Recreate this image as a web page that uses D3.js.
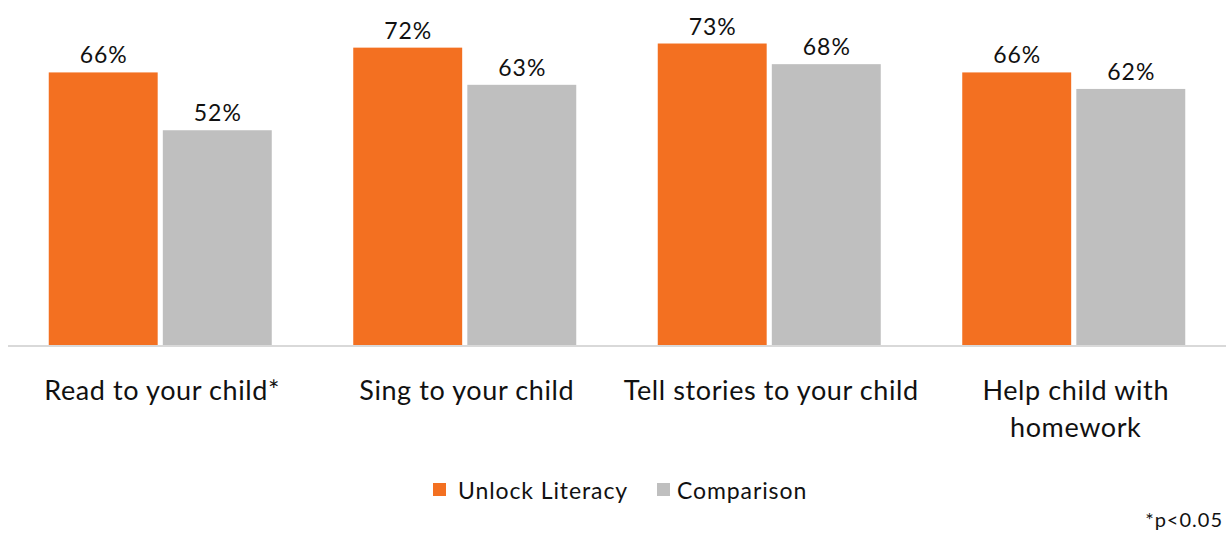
<!DOCTYPE html>
<html>
<head>
<meta charset="utf-8">
<script src="https://cdn.jsdelivr.net/npm/d3@7"></script>
<style>
  html, body { margin: 0; padding: 0; background: #fff; }
  svg { display: block; font-family: Lato, "Open Sans", sans-serif; }
</style>
</head>
<body>
<svg id="chart" width="1226" height="533"></svg>
<script>
// Activities asked about, and the share of parents doing each
const categories = [["Read to your child*"], ["Sing to your child"], ["Tell stories to your child"], ["Help child with", "homework"]];
const seriesNames = ["Unlock Literacy", "Comparison"];
const unlockLiteracy = [66, 72, 73, 66];
const comparison = [52, 63, 68, 62];
const seriesColors = ["#F37021", "#BFBFBF"];
const footnote = "*p<0.05";

const svg = d3.select("#chart");
const W = 1226;
const baseline = 345;

const x0 = d3.scaleBand()
  .domain(d3.range(categories.length))
  .range([8, W])
  .paddingInner(0)
  .paddingOuter(0);

const groupInner = 223;
const x1 = d3.scaleBand()
  .domain(seriesNames)
  .range([0, groupInner])
  .paddingInner(0.045);

const y = d3.scaleLinear().domain([0, 100]).range([baseline, baseline - 413]);

const rows = categories.map((c, i) => ({ i, values: [unlockLiteracy[i], comparison[i]] }));

const groups = svg.selectAll("g.grp").data(rows).join("g")
  .attr("class", "grp")
  .attr("transform", d => `translate(${x0(d.i) + (x0.bandwidth() - groupInner) / 2},0)`);

groups.selectAll("rect").data(d => d.values.map((v, k) => ({ v, k }))).join("rect")
  .attr("x", d => x1(seriesNames[d.k]))
  .attr("width", x1.bandwidth())
  .attr("y", d => y(d.v))
  .attr("height", d => baseline - y(d.v))
  .attr("fill", d => seriesColors[d.k]);

groups.selectAll("text.val").data(d => d.values.map((v, k) => ({ v, k }))).join("text")
  .attr("class", "val")
  .attr("x", d => x1(seriesNames[d.k]) + x1.bandwidth() / 2 + 0.5)
  .attr("y", d => y(d.v) - 9)
  .attr("text-anchor", "middle")
  .attr("font-size", 23)
  .attr("letter-spacing", 1)
  .attr("fill", "#111")
  .text(d => d.v + "%");

// Category axis line
svg.append("line")
  .attr("x1", 8).attr("x2", W)
  .attr("y1", baseline + 1).attr("y2", baseline + 1)
  .attr("stroke", "#D9D9D9").attr("stroke-width", 2);

// Category labels (wrapped lines)
const catLabels = svg.selectAll("text.cat").data(categories).join("text")
  .attr("class", "cat")
  .attr("text-anchor", "middle")
  .attr("font-size", 27)
  .attr("letter-spacing", 0.6)
  .attr("fill", "#111");
catLabels.each(function(lines, i) {
  const t = d3.select(this);
  lines.forEach((ln, j) => {
    t.append("tspan")
      .attr("x", x0(i) + x0.bandwidth() / 2 + 2)
      .attr("y", 400 + j * 37)
      .text(ln);
  });
});

// Legend
const legendItems = [{ x: 433, tx: 458 }, { x: 657, tx: 677 }];
const legend = svg.selectAll("g.leg").data(seriesNames).join("g").attr("class", "leg");
legend.append("rect")
  .attr("x", (d, i) => legendItems[i].x)
  .attr("y", 483)
  .attr("width", 13).attr("height", 13)
  .attr("fill", (d, i) => seriesColors[i]);
legend.append("text")
  .attr("x", (d, i) => legendItems[i].tx)
  .attr("y", 499)
  .attr("font-size", 23)
  .attr("letter-spacing", 0.9)
  .attr("fill", "#111")
  .text(d => d);

// Significance note
svg.append("text")
  .attr("x", 1223).attr("y", 527)
  .attr("text-anchor", "end")
  .attr("font-size", 20)
  .attr("letter-spacing", 1)
  .attr("fill", "#111")
  .text(footnote);
</script>
</body>
</html>
